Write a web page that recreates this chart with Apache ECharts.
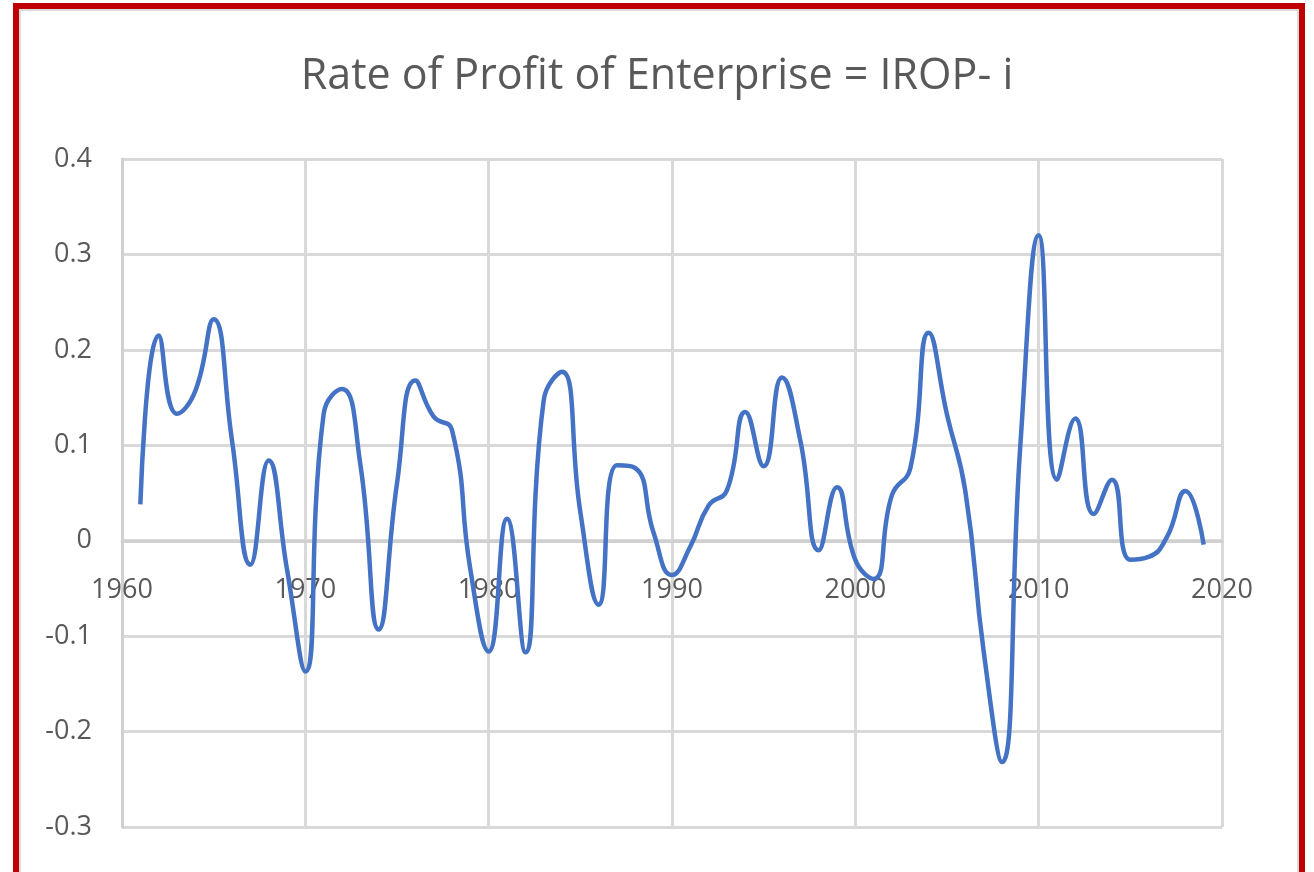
<!DOCTYPE html>
<html>
<head>
<meta charset="utf-8">
<script src="https://cdn.jsdelivr.net/npm/echarts@6/dist/echarts.min.js"></script>
<style>
  html, body { margin: 0; padding: 0; background: #fff; }
  #chart { position: absolute; left: 0; top: 0; width: 1314px; height: 872px; }
  #frame {
    position: absolute; left: 13px; top: 3px; width: 1280px; height: 880px;
    border: 6px solid #c00000; box-shadow: inset 0 0 0 2px #dcdcdc; pointer-events: none;
  }
</style>
</head>
<body>
<div id="chart"></div>
<div id="frame"></div>
<script>
const years = [
  1961, 1962, 1963, 1964, 1965, 1966, 1967, 1968, 1969, 1970,
  1971, 1972, 1973, 1974, 1975, 1976, 1977, 1978, 1979, 1980,
  1981, 1982, 1983, 1984, 1985, 1986, 1987, 1988, 1989, 1990,
  1991, 1992, 1993, 1994, 1995, 1996, 1997, 1998, 1999, 2000,
  2001, 2002, 2003, 2004, 2005, 2006, 2007, 2008, 2009, 2010,
  2011, 2012, 2013, 2014, 2015, 2016, 2017, 2018, 2019
];
const profitRate = [
  0.038, 0.215, 0.133, 0.157, 0.232, 0.105, -0.025, 0.084, -0.03, -0.137,
  0.133, 0.159, 0.08, -0.093, 0.06, 0.168, 0.13, 0.116, -0.03, -0.116,
  0.023, -0.117, 0.147, 0.177, 0.03, -0.067, 0.079, 0.076, 0.008, -0.036,
  -0.006, 0.037, 0.053, 0.135, 0.078, 0.171, 0.105, -0.01, 0.056, -0.02,
  -0.04, 0.048, 0.076, 0.218, 0.132, 0.052, -0.116, -0.232, 0.1, 0.32,
  0.064, 0.128, 0.028, 0.064, -0.02, -0.017, 0.004, 0.052, -0.004
];
const titleText = "Rate of Profit of Enterprise = IROP- i";

// plot area edges and where the y value 0 falls (x axis sits there)
const plotTop = 159;
const plotBottom = 827;
const yMin = -0.3;
const yMax = 0.4;
const zeroShift = Math.round((plotBottom - plotTop) * (0 - yMin) / (yMax - yMin));

var myChart = echarts.init(document.getElementById("chart"));

let option = {
  animation: false,
  textStyle: { fontFamily: "Open Sans" },
  title: {
    text: titleText,
    left: "center",
    top: 50,
    textStyle: {
      fontFamily: "Open Sans",
      fontWeight: "normal",
      fontSize: 43,
      color: "#595959",
    },
  },
  grid: {
    left: 122,
    right: 92,
    top: plotTop,
    bottom: 872 - plotBottom,
    containLabel: false,
  },
  xAxis: {
    type: "value",
    min: 1960,
    max: 2020,
    interval: 10,
    position: "bottom",
    offset: -zeroShift,
    axisLine: { onZero: false, lineStyle: { color: "#d0d0d0", width: 3 } },
    axisTick: { show: false },
    axisLabel: {
      margin: 36,
      fontSize: 27,
      color: "#595959",
      formatter: (v) => String(v),
    },
    splitLine: { show: true, lineStyle: { color: "#d9d9d9", width: 3 } },
  },
  yAxis: {
    type: "value",
    min: yMin,
    max: yMax,
    interval: 0.1,
    axisLine: { show: true, onZero: false, lineStyle: { color: "#d0d0d0", width: 3 } },
    axisTick: { show: false },
    axisLabel: {
      margin: 30,
      fontSize: 27,
      color: "#595959",
      formatter: (v) => String(+v.toFixed(1)),
    },
    splitLine: { show: true, lineStyle: { color: "#d9d9d9", width: 3 } },
  },
  series: [
    {
      name: "IROP- i",
      type: "line",
      smooth: 0.5,
      symbol: "none",
      data: years.map((y, i) => [y, profitRate[i]]),
      lineStyle: { color: "#4472c4", width: 4.5 },
    },
  ],
};
myChart.setOption(option);
</script>
</body>
</html>
